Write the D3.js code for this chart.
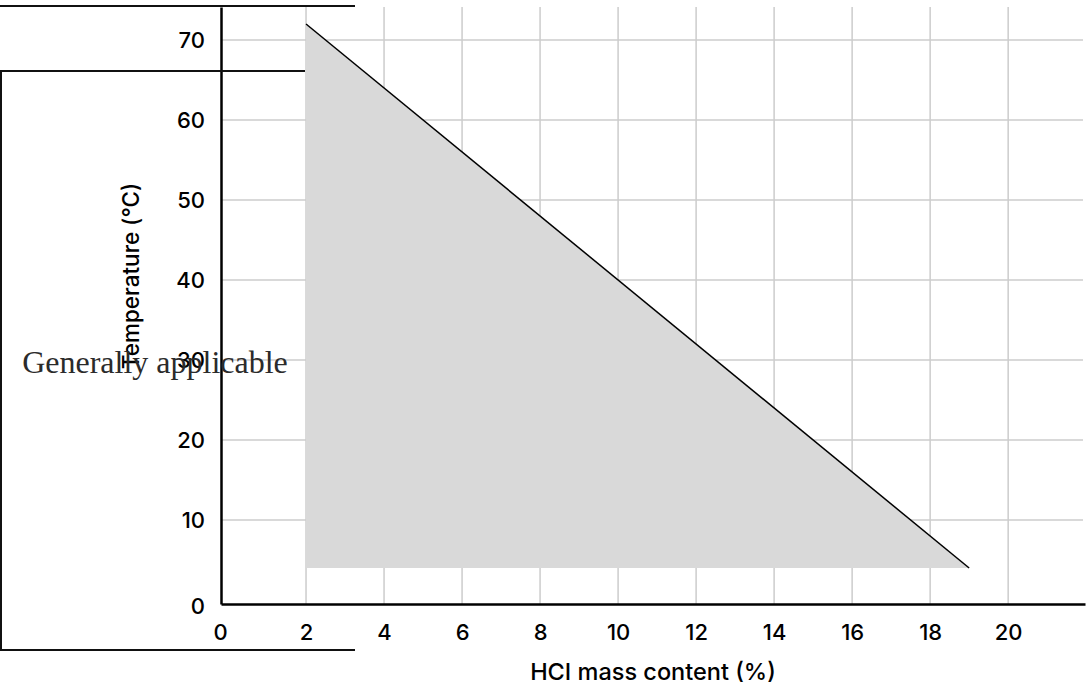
<!DOCTYPE html>
<html>
<head>
<meta charset="utf-8">
<script src="https://cdn.jsdelivr.net/npm/d3@7"></script>
<style>
  html, body { margin: 0; padding: 0; background: #fff; }
  svg { display: block; }
  text { font-family: Inter, "Noto Sans", sans-serif; fill: #000; font-weight: 500; }
</style>
</head>
<body>
<svg id="canvas" width="1088" height="685"></svg>
<script>
// values
let xTicks = [0, 2, 4, 6, 8, 10, 12, 14, 16, 18, 20]
let yTicks = [0, 10, 20, 30, 40, 50, 60, 70]
let limitHcl = [2, 19]          // HCl mass content (%)
let limitTemp = [72, 4]         // temperature at each end (°C)
let floorTemp = 4               // lower edge of the shaded zone
let zoneLabel = 'Generally applicable'

let canvas = d3.select('#canvas')

let x = d3.scaleLinear().domain([-0.18, 21.97]).range([221, 1085])
let y = d3.scaleLinear().domain([-0.5, 74.125]).range([604, 7])

// grid
canvas.append('g')
    .selectAll('line')
    .data(xTicks.filter(d => d > 0))
    .enter()
    .append('line')
    .attr('x1', d => x(d)).attr('x2', d => x(d))
    .attr('y1', y.range()[1]).attr('y2', y.range()[0])
    .attr('stroke', '#cccccc').attr('stroke-width', 1.5)

canvas.append('g')
    .selectAll('line')
    .data(yTicks.filter(d => d > 0))
    .enter()
    .append('line')
    .attr('x1', x.range()[0]).attr('x2', x.range()[1] - 2)
    .attr('y1', d => y(d)).attr('y2', d => y(d))
    .attr('stroke', '#cccccc').attr('stroke-width', 1.5)

// shaded zone under the limit line
let zone = [
    [limitHcl[0], limitTemp[0]],
    [limitHcl[1], limitTemp[1]],
    [limitHcl[1], floorTemp],
    [limitHcl[0], floorTemp]
]
canvas.append('path')
    .attr('d', d3.line().x(d => x(d[0])).y(d => y(d[1]))(zone) + 'Z')
    .attr('fill', '#d9d9d9')

canvas.append('path')
    .attr('d', d3.line().x(d => x(d[0])).y(d => y(d[1]))([[limitHcl[0], limitTemp[0]], [limitHcl[1], limitTemp[1]]]))
    .attr('fill', 'none')
    .attr('stroke', '#000')
    .attr('stroke-width', 1.5)

// axes
let xAxis = canvas.append('g')
    .attr('transform', 'translate(0,' + y.range()[0] + ')')
    .call(d3.axisBottom(x).tickValues(xTicks).tickSize(0).tickPadding(20))
xAxis.select('.domain').attr('stroke', '#000').attr('stroke-width', 2.5)
xAxis.selectAll('text').attr('font-size', 22).attr('fill', '#000')
    .attr('font-family', 'Inter, sans-serif').attr('font-weight', 500)
    .attr('dx', d => d === 0 ? -8 : 0)

let yAxis = canvas.append('g')
    .attr('transform', 'translate(' + x.range()[0] + ',0)')
    .call(d3.axisLeft(y).tickValues(yTicks).tickSize(0).tickPadding(16))
yAxis.select('.domain').attr('stroke', '#000').attr('stroke-width', 2.5)
yAxis.selectAll('text').attr('font-size', 22).attr('fill', '#000')
    .attr('font-family', 'Inter, sans-serif').attr('font-weight', 500)
    .attr('dy', d => d === 0 ? '0.6em' : '0.32em')

canvas.append('text')
    .attr('x', 653).attr('y', 680)
    .attr('text-anchor', 'middle')
    .attr('font-size', 23.5)
    .text('HCI mass content (%)')

canvas.append('text')
    .attr('transform', 'translate(139,276) rotate(-90)')
    .attr('text-anchor', 'middle')
    .attr('font-size', 22.5)
    .text('Temperature (°C)')

// stray legend box borders on the left
let boxLines = [
    [0, 6, 355, 6],
    [0, 71, 305, 71],
    [1, 71, 1, 650],
    [0, 650, 355, 650]
]
canvas.append('g')
    .selectAll('line')
    .data(boxLines)
    .enter()
    .append('line')
    .attr('x1', d => d[0]).attr('y1', d => d[1])
    .attr('x2', d => d[2]).attr('y2', d => d[3])
    .attr('stroke', '#111').attr('stroke-width', 2)

canvas.append('text')
    .attr('x', 155).attr('y', 373)
    .attr('text-anchor', 'middle')
    .attr('font-size', 32)
    .style('font-family', '"Liberation Serif", serif')
    .style('font-weight', 400)
    .style('fill', '#2b2b2b')
    .text(zoneLabel)
</script>
</body>
</html>
